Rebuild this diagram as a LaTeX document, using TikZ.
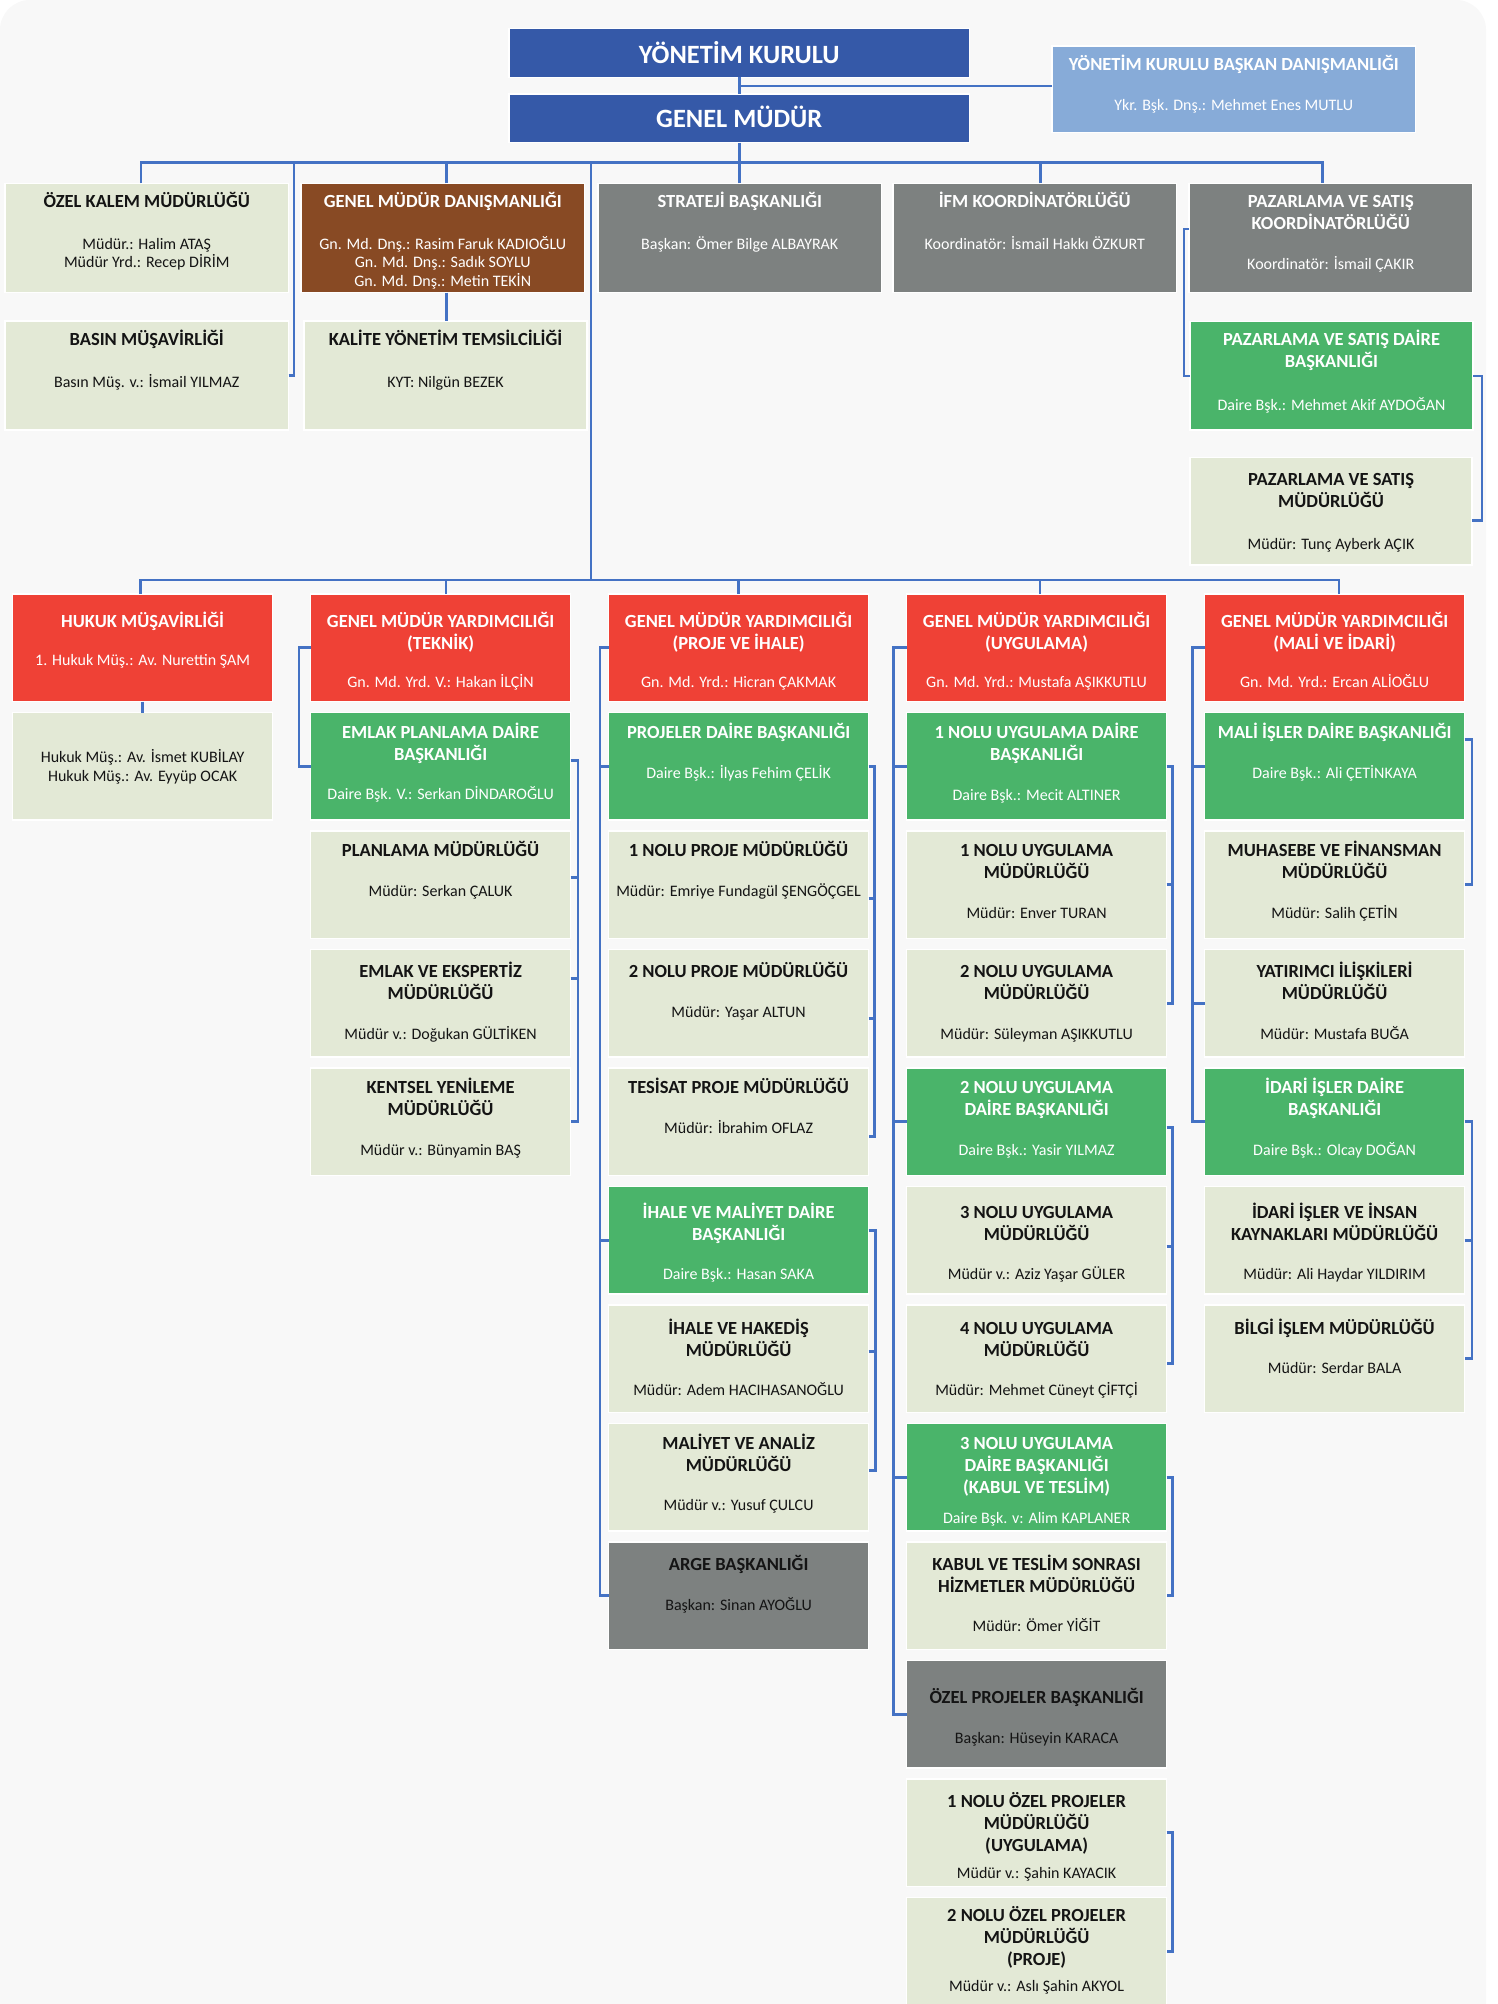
\documentclass[tikz,border=0pt]{standalone}
\usepackage{fontspec}
\setmainfont{Carlito}
\usetikzlibrary{calc}
\definecolor{cBg}{RGB}{248,248,248}
\definecolor{cDB}{RGB}{53,89,168}
\definecolor{cLB}{RGB}{135,171,216}
\definecolor{cLt}{RGB}{227,233,214}
\definecolor{cBr}{RGB}{136,74,36}
\definecolor{cGy}{RGB}{125,129,128}
\definecolor{cRd}{RGB}{239,65,54}
\definecolor{cGn}{RGB}{74,180,106}
\definecolor{cLine}{RGB}{68,114,196}
\definecolor{cTx}{RGB}{20,20,20}
\newcommand\sbt{\fontsize{16}{22}\selectfont\mdseries}
% name, left, top, width, height, style, first baseline offset, content
\newcommand\obox[8]{%
  \node[box,#6,minimum width=#4pt,minimum height=#5pt] (#1) at ({#2+#4/2},{#3+#5/2}) {};
  \node[txt,#6t,anchor=north] (#1-t) at ({#2+#4/2},{#3+#7-16}) {\rule{0pt}{16pt}#8};
}
% name, column, row, style, offset, content
\newcommand\lbox[6]{\obox{#1}{12.6+298*#2}{594+118.5*#3}{260}{107.5}{#4}{#5}{#6}}
\begin{document}
\begin{tikzpicture}[x=1pt,y=-1pt,
  box/.style={rectangle,draw=white,line width=1.2pt,inner sep=0,outer sep=0},
  txt/.style={inner sep=0,outer sep=0,align=center,font=\fontsize{18.5}{22}\selectfont\bfseries},
  conn/.style={draw=cLine,line width=2.7pt},
  bxdb/.style={fill=cDB}, bxdbt/.style={text=white},
  bxlb/.style={fill=cLB}, bxlbt/.style={text=white},
  bxlt/.style={fill=cLt}, bxltt/.style={text=cTx},
  bxbr/.style={fill=cBr}, bxbrt/.style={text=white},
  bxgy/.style={fill=cGy}, bxgyt/.style={text=white},
  bxgd/.style={fill=cGy}, bxgdt/.style={text=cTx},
  bxrd/.style={fill=cRd}, bxrdt/.style={text=white},
  bxgn/.style={fill=cGn}, bxgnt/.style={text=white}]
\useasboundingbox (0,0) rectangle (1498,2004);
\fill[white] (0,0) rectangle (1498,2004);
\fill[cBg,rounded corners=30pt] (0,0) rectangle (1486,2080);

% ---------- top ----------
\node[box,bxdb,minimum width=460.5pt,minimum height=49pt] (yk) at (739.25,52.8) {};
\node[txt,bxdbt,font=\fontsize{26.4}{30}\selectfont\bfseries,anchor=base] (yk-t) at (739.25,63.3) {YÖNETİM KURULU};
\node[box,bxdb,minimum width=460.5pt,minimum height=48.7pt] (gm) at (739.25,118.35) {};
\node[txt,bxdbt,font=\fontsize{26.4}{30}\selectfont\bfseries,anchor=base] (gm-t) at (739.25,127.3) {GENEL MÜDÜR};

\obox{ykbd}{1052}{46}{363.5}{86.7}{bxlb}{24.5}{YÖNETİM KURULU BAŞKAN DANIŞMANLIĞI\\[18pt]\sbt Ykr. Bşk. Dnş.: Mehmet Enes MUTLU}
\obox{okm}{5}{183.3}{283.5}{109.4}{bxlt}{24}{ÖZEL KALEM MÜDÜRLÜĞÜ\\[20pt]\sbt Müdür.: Halim ATAŞ\\[-3.5pt]\sbt Müdür Yrd.: Recep DİRİM}
\obox{gmd}{301}{183.3}{283.5}{109.4}{bxbr}{24}{GENEL MÜDÜR DANIŞMANLIĞI\\[20pt]\sbt Gn. Md. Dnş.: Rasim Faruk KADIOĞLU\\[-3.5pt]\sbt Gn. Md. Dnş.: Sadık SOYLU\\[-3.5pt]\sbt Gn. Md. Dnş.: Metin TEKİN}
\obox{str}{598}{183.3}{283.5}{109.4}{bxgy}{24}{STRATEJİ BAŞKANLIĞI\\[20pt]\sbt Başkan: Ömer Bilge ALBAYRAK}
\obox{ifm}{893}{183.3}{283.5}{109.4}{bxgy}{24}{İFM KOORDİNATÖRLÜĞÜ\\[20pt]\sbt Koordinatör: İsmail Hakkı ÖZKURT}
\obox{pzk}{1189}{183.3}{283.5}{109.4}{bxgy}{24}{PAZARLAMA VE SATIŞ\\KOORDİNATÖRLÜĞÜ\\[18pt]\sbt Koordinatör: İsmail ÇAKIR}
\obox{bas}{5}{321}{283.5}{109}{bxlt}{24}{BASIN MÜŞAVİRLİĞİ\\[20pt]\sbt Basın Müş. v.: İsmail YILMAZ}
\obox{kyt}{304}{321}{283}{109}{bxlt}{24}{KALİTE YÖNETİM TEMSİLCİLİĞİ\\[20pt]\sbt KYT: Nilgün BEZEK}
\obox{pzd}{1190}{321.7}{283}{108.3}{bxgn}{23.3}{PAZARLAMA VE SATIŞ DAİRE\\BAŞKANLIĞI\\[21pt]\sbt Daire Bşk.: Mehmet Akif AYDOĞAN}
\obox{pzm}{1190}{457.5}{282}{107.5}{bxlt}{27.5}{PAZARLAMA VE SATIŞ\\MÜDÜRLÜĞÜ\\[20pt]\sbt Müdür: Tunç Ayberk AÇIK}

% ---------- lower ----------
\lbox{huk}{0}{0}{bxrd}{33}{HUKUK MÜŞAVİRLİĞİ\\[16.5pt]\sbt 1. Hukuk Müş.: Av. Nurettin ŞAM}
\lbox{hsub}{0}{1}{bxlt}{50}{\sbt Hukuk Müş.: Av. İsmet KUBİLAY\\[-3.5pt]\sbt Hukuk Müş.: Av. Eyyüp OCAK}

\lbox{gt}{1}{0}{bxrd}{33}{GENEL MÜDÜR YARDIMCILIĞI\\(TEKNİK)\\[16.5pt]\sbt Gn. Md. Yrd. V.: Hakan İLÇİN}
\lbox{epd}{1}{1}{bxgn}{26}{EMLAK PLANLAMA DAİRE\\BAŞKANLIĞI\\[17pt]\sbt Daire Bşk. V.: Serkan DİNDAROĞLU}
\lbox{plm}{1}{2}{bxlt}{25.5}{PLANLAMA MÜDÜRLÜĞÜ\\[17.5pt]\sbt Müdür: Serkan ÇALUK}
\lbox{eem}{1}{3}{bxlt}{28}{EMLAK VE EKSPERTİZ\\MÜDÜRLÜĞÜ\\[17.5pt]\sbt Müdür v.: Doğukan GÜLTİKEN}
\lbox{kym}{1}{4}{bxlt}{25.6}{KENTSEL YENİLEME\\MÜDÜRLÜĞÜ\\[17.5pt]\sbt Müdür v.: Bünyamin BAŞ}

\lbox{gp}{2}{0}{bxrd}{33}{GENEL MÜDÜR YARDIMCILIĞI\\(PROJE VE İHALE)\\[16.5pt]\sbt Gn. Md. Yrd.: Hicran ÇAKMAK}
\lbox{pdb}{2}{1}{bxgn}{26}{PROJELER DAİRE BAŞKANLIĞI\\[17.5pt]\sbt Daire Bşk.: İlyas Fehim ÇELİK}
\lbox{p1}{2}{2}{bxlt}{25.5}{1 NOLU PROJE MÜDÜRLÜĞÜ\\[17.5pt]\sbt Müdür: Emriye Fundagül ŞENGÖÇGEL}
\lbox{p2}{2}{3}{bxlt}{28}{2 NOLU PROJE MÜDÜRLÜĞÜ\\[17.5pt]\sbt Müdür: Yaşar ALTUN}
\lbox{tpm}{2}{4}{bxlt}{25.6}{TESİSAT PROJE MÜDÜRLÜĞÜ\\[17.5pt]\sbt Müdür: İbrahim OFLAZ}
\lbox{imd}{2}{5}{bxgn}{31.5}{İHALE VE MALİYET DAİRE\\BAŞKANLIĞI\\[17.5pt]\sbt Daire Bşk.: Hasan SAKA}
\lbox{ihm}{2}{6}{bxlt}{29}{İHALE VE HAKEDİŞ\\MÜDÜRLÜĞÜ\\[17.5pt]\sbt Müdür: Adem HACIHASANOĞLU}
\lbox{mam}{2}{7}{bxlt}{25.5}{MALİYET VE ANALİZ\\MÜDÜRLÜĞÜ\\[17.5pt]\sbt Müdür v.: Yusuf ÇULCU}
\lbox{arge}{2}{8}{bxgd}{28}{ARGE BAŞKANLIĞI\\[18pt]\sbt Başkan: Sinan AYOĞLU}

\lbox{gu}{3}{0}{bxrd}{33}{GENEL MÜDÜR YARDIMCILIĞI\\(UYGULAMA)\\[16.5pt]\sbt Gn. Md. Yrd.: Mustafa AŞIKKUTLU}
\lbox{u1db}{3}{1}{bxgn}{26}{1 NOLU UYGULAMA DAİRE\\BAŞKANLIĞI\\[17.5pt]\sbt Daire Bşk.: Mecit ALTINER}
\lbox{u1m}{3}{2}{bxlt}{25.5}{1 NOLU UYGULAMA\\MÜDÜRLÜĞÜ\\[17.5pt]\sbt Müdür: Enver TURAN}
\lbox{u2m}{3}{3}{bxlt}{28}{2 NOLU UYGULAMA\\MÜDÜRLÜĞÜ\\[17.5pt]\sbt Müdür: Süleyman AŞIKKUTLU}
\lbox{u2db}{3}{4}{bxgn}{25.6}{2 NOLU UYGULAMA\\DAİRE BAŞKANLIĞI\\[17.5pt]\sbt Daire Bşk.: Yasir YILMAZ}
\lbox{u3m}{3}{5}{bxlt}{31.5}{3 NOLU UYGULAMA\\MÜDÜRLÜĞÜ\\[17.5pt]\sbt Müdür v.: Aziz Yaşar GÜLER}
\lbox{u4m}{3}{6}{bxlt}{29}{4 NOLU UYGULAMA\\MÜDÜRLÜĞÜ\\[17.5pt]\sbt Müdür: Mehmet Cüneyt ÇİFTÇİ}
\lbox{u3db}{3}{7}{bxgn}{25.5}{3 NOLU UYGULAMA\\DAİRE BAŞKANLIĞI\\(KABUL VE TESLİM)\\[8pt]\sbt Daire Bşk. v: Alim KAPLANER}
\lbox{kts}{3}{8}{bxlt}{28}{KABUL VE TESLİM SONRASI\\HİZMETLER MÜDÜRLÜĞÜ\\[17.5pt]\sbt Müdür: Ömer YİĞİT}
\lbox{ozp}{3}{9}{bxgd}{42.5}{ÖZEL PROJELER BAŞKANLIĞI\\[18pt]\sbt Başkan: Hüseyin KARACA}
\lbox{oz1}{3}{10}{bxlt}{28}{1 NOLU ÖZEL PROJELER\\MÜDÜRLÜĞÜ\\(UYGULAMA)\\[5pt]\sbt Müdür v.: Şahin KAYACIK}
\lbox{oz2}{3}{11}{bxlt}{23.7}{2 NOLU ÖZEL PROJELER\\MÜDÜRLÜĞÜ\\(PROJE)\\[4.5pt]\sbt Müdür v.: Aslı Şahin AKYOL}

\lbox{gmi}{4}{0}{bxrd}{33}{GENEL MÜDÜR YARDIMCILIĞI\\(MALİ VE İDARİ)\\[16.5pt]\sbt Gn. Md. Yrd.: Ercan ALİOĞLU}
\lbox{mdb}{4}{1}{bxgn}{26}{MALİ İŞLER DAİRE BAŞKANLIĞI\\[17.5pt]\sbt Daire Bşk.: Ali ÇETİNKAYA}
\lbox{muh}{4}{2}{bxlt}{25.5}{MUHASEBE VE FİNANSMAN\\MÜDÜRLÜĞÜ\\[17.5pt]\sbt Müdür: Salih ÇETİN}
\lbox{yat}{4}{3}{bxlt}{28}{YATIRIMCI İLİŞKİLERİ\\MÜDÜRLÜĞÜ\\[17.5pt]\sbt Müdür: Mustafa BUĞA}
\lbox{idb}{4}{4}{bxgn}{25.6}{İDARİ İŞLER DAİRE\\BAŞKANLIĞI\\[17.5pt]\sbt Daire Bşk.: Olcay DOĞAN}
\lbox{iik}{4}{5}{bxlt}{31.5}{İDARİ İŞLER VE İNSAN\\KAYNAKLARI MÜDÜRLÜĞÜ\\[17.5pt]\sbt Müdür: Ali Haydar YILDIRIM}
\lbox{bim}{4}{6}{bxlt}{29}{BİLGİ İŞLEM MÜDÜRLÜĞÜ\\[17.5pt]\sbt Müdür: Serdar BALA}

% ---------- connectors: top ----------
\draw[conn] (yk.south) -- (gm.north);
\coordinate (ykbdW) at ([yshift=3.4pt]ykbd.west);
\draw[conn] (ykbdW) -- (yk.south |- ykbdW);
\coordinate (bar1) at (739.25,162.3);
\draw[conn] (gm.south) -- (bar1);
\coordinate (okmT) at ([xshift=-5.75pt]okm.north);
\coordinate (gmdT) at ([xshift=4pt]gmd.north);
\coordinate (gmdB) at ([xshift=4pt]gmd.south);
\coordinate (ifmT) at ([xshift=6pt]ifm.north);
\coordinate (pzkT) at ([xshift=-8.5pt]pzk.north);
\draw[conn] (okmT) -- (okmT |- bar1) -- (pzkT |- bar1) -- (pzkT);
\draw[conn] (gmdT) -- (gmdT |- bar1);
\draw[conn] (str.north) -- (str.north |- bar1);
\draw[conn] (ifmT) -- (ifmT |- bar1);
\coordinate (basT) at ([xshift=5.5pt]bas.east);
\draw[conn] (bas.east) -- (basT) -- (basT |- bar1);
\draw[conn] (gmdB) -- (gmdB |- kyt.north);
\coordinate (trk) at (591,162.3);
\coordinate (bar2) at (591,580);
\draw[conn] (trk) -- (bar2);
\coordinate (pzkL) at ([yshift=9pt]pzk.west);
\draw[conn] (pzkL) -- ++(-5,0) |- (pzd.west);
\coordinate (pzmR) at ([yshift=-9pt]pzm.east);
\draw[conn] (pzd.east) -- ++(9,0) |- (pzmR);

% ---------- connectors: lower ----------
\coordinate (hukT) at ([xshift=-1.8pt]huk.north);
\coordinate (gtT) at ([xshift=5.5pt]gt.north);
\coordinate (guT) at ([xshift=3.5pt]gu.north);
\coordinate (gmiT) at ([xshift=4.4pt]gmi.north);
\draw[conn] (hukT) -- (hukT |- bar2) -- (gmiT |- bar2) -- (gmiT);
\draw[conn] (gtT) -- (gtT |- bar2);
\draw[conn] (gp.north) -- (gp.north |- bar2);
\draw[conn] (guT) -- (guT |- bar2);
\draw[conn] (huk.south) -- (hsub.north);

% column 2
\draw[conn] (gt.west) -- ++(-11.5,0) |- (epd.west);
\coordinate (epdR) at ([yshift=6pt]epd.east);
\coordinate (plmR) at ([yshift=7pt]plm.east);
\coordinate (eemR) at ([yshift=25pt]eem.east);
\draw[conn] (epdR) -- ++(7.5,0) |- (plmR);
\draw[conn] (plmR) -- ++(7.5,0) |- (eemR);
\draw[conn] (eemR) -- ++(7.5,0) |- (kym.east);

% column 3
\draw[conn] (gp.west) -- ++(-8.7,0) |- (pdb.west);
\draw[conn] (pdb.west) -- ++(-8.7,0) |- (imd.west);
\draw[conn] (imd.west) -- ++(-8.7,0) |- (arge.west);
\coordinate (p1R) at ([yshift=-14pt]p1.east);
\coordinate (p2R) at ([yshift=-15.5pt]p2.east);
\coordinate (tpmR) at ([yshift=-15pt]tpm.east);
\draw[conn] (pdb.east) -- ++(6,0) |- (p1R);
\draw[conn] (p1R) -- ++(6,0) |- (p2R);
\draw[conn] (p2R) -- ++(6,0) |- (tpmR);
\coordinate (imdR) at ([yshift=10pt]imd.east);
\coordinate (ihmR) at ([yshift=7.5pt]ihm.east);
\coordinate (mamR) at ([yshift=7pt]mam.east);
\draw[conn] (imdR) -- ++(7,0) |- (ihmR);
\draw[conn] (ihmR) -- ++(7,0) |- (mamR);

% column 4
\draw[conn] (gu.west) -- ++(-13,0) |- (u1db.west);
\draw[conn] (u1db.west) -- ++(-13,0) |- (u2db.west);
\draw[conn] (u2db.west) -- ++(-13,0) |- (u3db.west);
\draw[conn] (u3db.west) -- ++(-13,0) |- (ozp.west);
\draw[conn] (u1db.east) -- ++(6,0) |- (u1m.east);
\draw[conn] (u1m.east) -- ++(6,0) |- (u2m.east);
\coordinate (u2dbR) at ([yshift=-6pt]u2db.east);
\coordinate (u3mR) at ([yshift=-6pt]u3m.east);
\coordinate (u4mR) at ([yshift=-5pt]u4m.east);
\draw[conn] (u2dbR) -- ++(6,0) |- (u3mR);
\draw[conn] (u3mR) -- ++(6,0) |- (u4mR);
\draw[conn] (u3db.east) -- ++(6,0) |- (kts.east);
\draw[conn] (oz1.east) -- ++(6,0) |- (oz2.east);

% column 5
\draw[conn] (gmi.west) -- ++(-12,0) |- (mdb.west);
\draw[conn] (mdb.west) -- ++(-12,0) |- (yat.west);
\draw[conn] (yat.west) -- ++(-12,0) |- (idb.west);
\coordinate (mdbR) at ([yshift=27pt]mdb.east);
\draw[conn] (mdbR) -- ++(7.4,0) |- (muh.east);
\draw[conn] (idb.east) -- ++(7.4,0) |- (iik.east);
\draw[conn] (iik.east) -- ++(7.4,0) |- (bim.east);
\end{tikzpicture}
\end{document}
